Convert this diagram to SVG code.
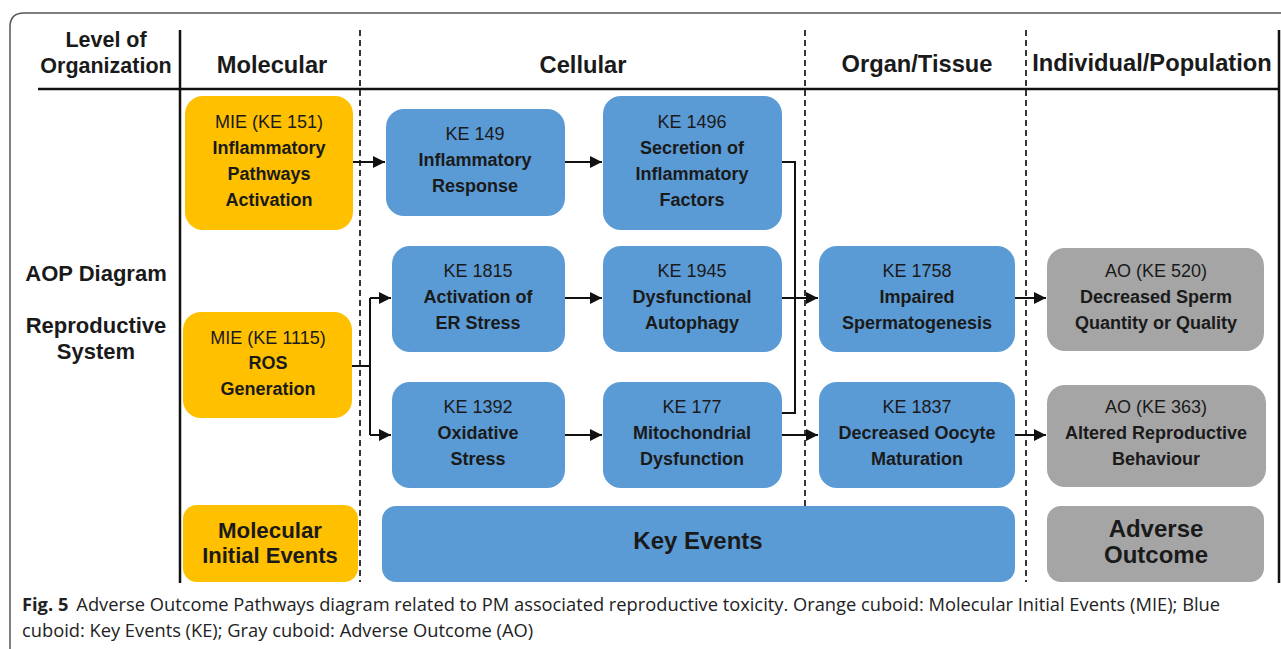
<svg xmlns="http://www.w3.org/2000/svg" width="1281" height="649" viewBox="0 0 1281 649">
<defs>
<marker id="ah" viewBox="0 0 10 10" refX="10" refY="5" markerWidth="12" markerHeight="12" markerUnits="userSpaceOnUse" orient="auto"><path d="M0,0 L10,5 L0,10 z" fill="#111"/></marker>
<style>
.t text{fill:#1a1a1a;text-anchor:middle}
.h{font-size:23.7px;font-weight:bold}
.s{font-size:21.5px;font-weight:bold}
.r{font-size:18px}
.b{font-size:18px;font-weight:bold}
.big{font-weight:bold}
.mie{fill:#FFC000}
.ke{fill:#5B9BD5}
.ao{fill:#A5A5A5}
.dash{stroke:#222;stroke-width:1.8;stroke-dasharray:6,4;fill:none}
.conn path{stroke:#111;stroke-width:2;fill:none}
.cap{font-size:18.3px;fill:#222}
</style>
</defs>
<rect width="1281" height="649" fill="#fff"/>
<path d="M10,660 L10,27 Q10,13 24,13 L1290,13" fill="none" stroke="#555" stroke-width="1.5"/>
<g id="grid">
<line x1="38" y1="89" x2="1280" y2="89" stroke="#111" stroke-width="2.5"/>
<line x1="180" y1="30" x2="180" y2="583" stroke="#111" stroke-width="2.5"/>
<line x1="1279" y1="30" x2="1279" y2="583" stroke="#111" stroke-width="2.5"/>
<line class="dash" x1="360" y1="30" x2="360" y2="582"/>
<line class="dash" x1="805" y1="30" x2="805" y2="582"/>
<line class="dash" x1="1026" y1="30" x2="1026" y2="582"/>
</g>
<g class="t" font-family="Liberation Sans, Arial, Helvetica, sans-serif">
<g id="headers">
<text class="s" x="106" y="47">Level of</text>
<text class="s" x="106" y="73">Organization</text>
<text class="h" x="272" y="73">Molecular</text>
<text class="h" x="583" y="73">Cellular</text>
<text class="h" x="917" y="72">Organ/Tissue</text>
<text class="h" x="1152" y="71">Individual/Population</text>
<text class="s" x="96" y="281" style="font-size:22px">AOP Diagram</text>
<text class="s" x="96" y="333" style="font-size:22px">Reproductive</text>
<text class="s" x="96" y="359" style="font-size:22px">System</text>
</g>
<g id="mie151"><rect class="mie" x="185" y="96" width="168" height="134" rx="18"/>
<text class="r" x="269" y="128">MIE (KE 151)</text><text class="b" x="269" y="154">Inflammatory</text><text class="b" x="269" y="180">Pathways</text><text class="b" x="269" y="206">Activation</text></g>
<g id="ke149"><rect class="ke" x="386" y="109" width="179" height="107" rx="18"/>
<text class="r" x="475" y="140">KE 149</text><text class="b" x="475" y="166">Inflammatory</text><text class="b" x="475" y="192">Response</text></g>
<g id="ke1496"><rect class="ke" x="603" y="96" width="179" height="134" rx="18"/>
<text class="r" x="692" y="128">KE 1496</text><text class="b" x="692" y="154">Secretion of</text><text class="b" x="692" y="180">Inflammatory</text><text class="b" x="692" y="206">Factors</text></g>
<g id="ke1815"><rect class="ke" x="392" y="246" width="173" height="106" rx="18"/>
<text class="r" x="478" y="277">KE 1815</text><text class="b" x="478" y="303">Activation of</text><text class="b" x="478" y="329">ER Stress</text></g>
<g id="ke1945"><rect class="ke" x="603" y="246" width="179" height="106" rx="18"/>
<text class="r" x="692" y="277">KE 1945</text><text class="b" x="692" y="303">Dysfunctional</text><text class="b" x="692" y="329">Autophagy</text></g>
<g id="ke1758"><rect class="ke" x="819" y="246" width="196" height="106" rx="18"/>
<text class="r" x="917" y="277">KE 1758</text><text class="b" x="917" y="303">Impaired</text><text class="b" x="917" y="329">Spermatogenesis</text></g>
<g id="ao520"><rect class="ao" x="1047" y="248" width="217" height="103" rx="18"/>
<text class="r" x="1156" y="277">AO (KE 520)</text><text class="b" x="1156" y="303">Decreased Sperm</text><text class="b" x="1156" y="329">Quantity or Quality</text></g>
<g id="mie1115"><rect class="mie" x="183" y="312" width="169" height="106" rx="18"/>
<text class="r" x="268" y="344">MIE (KE 1115)</text><text class="b" x="268" y="369">ROS</text><text class="b" x="268" y="395">Generation</text></g>
<g id="ke1392"><rect class="ke" x="392" y="382" width="173" height="106" rx="18"/>
<text class="r" x="478" y="413">KE 1392</text><text class="b" x="478" y="439">Oxidative</text><text class="b" x="478" y="465">Stress</text></g>
<g id="ke177"><rect class="ke" x="603" y="382" width="179" height="106" rx="18"/>
<text class="r" x="692" y="413">KE 177</text><text class="b" x="692" y="439">Mitochondrial</text><text class="b" x="692" y="465">Dysfunction</text></g>
<g id="ke1837"><rect class="ke" x="819" y="382" width="196" height="106" rx="18"/>
<text class="r" x="917" y="413">KE 1837</text><text class="b" x="917" y="439">Decreased Oocyte</text><text class="b" x="917" y="465">Maturation</text></g>
<g id="ao363"><rect class="ao" x="1047" y="385" width="219" height="102" rx="18"/>
<text class="r" x="1156" y="413">AO (KE 363)</text><text class="b" x="1156" y="439">Altered Reproductive</text><text class="b" x="1156" y="465">Behaviour</text></g>
<g id="legend-mie"><rect class="mie" x="183" y="505" width="175" height="77" rx="14"/>
<text class="big" x="270" y="538" style="font-size:22.3px">Molecular</text><text class="big" x="270" y="563" style="font-size:22px">Initial Events</text></g>
<g id="legend-ke"><rect class="ke" x="382" y="506" width="633" height="76" rx="14"/>
<text class="big" x="698" y="549" style="font-size:24px">Key Events</text></g>
<g id="legend-ao"><rect class="ao" x="1047" y="506" width="217" height="76" rx="14"/>
<text class="big" x="1156" y="537" style="font-size:24px">Adverse</text><text class="big" x="1156" y="563" style="font-size:24px">Outcome</text></g>
</g>
<g id="connectors" class="conn">
<path d="M353,162 H385" marker-end="url(#ah)"/>
<path d="M565,162 H602" marker-end="url(#ah)"/>
<path d="M352,366 H370"/>
<path d="M370,298 V435"/>
<path d="M370,298 H391" marker-end="url(#ah)"/>
<path d="M370,435 H391" marker-end="url(#ah)"/>
<path d="M565,298 H602" marker-end="url(#ah)"/>
<path d="M565,435 H602" marker-end="url(#ah)"/>
<path d="M782,162 H795 V413 H782"/>
<path d="M782,298 H818" marker-end="url(#ah)"/>
<path d="M782,435 H818" marker-end="url(#ah)"/>
<path d="M1015,298 H1046" marker-end="url(#ah)"/>
<path d="M1015,435 H1046" marker-end="url(#ah)"/>
</g>
<g id="caption" font-family="Open Sans, Liberation Sans, sans-serif">
<text class="cap" x="22" y="611"><tspan font-weight="bold">Fig. 5</tspan><tspan dx="8">Adverse Outcome Pathways diagram related to PM associated reproductive toxicity. Orange cuboid: Molecular Initial Events (MIE); Blue</tspan></text>
<text class="cap" x="22" y="637">cuboid: Key Events (KE); Gray cuboid: Adverse Outcome (AO)</text>
</g>
</svg>
